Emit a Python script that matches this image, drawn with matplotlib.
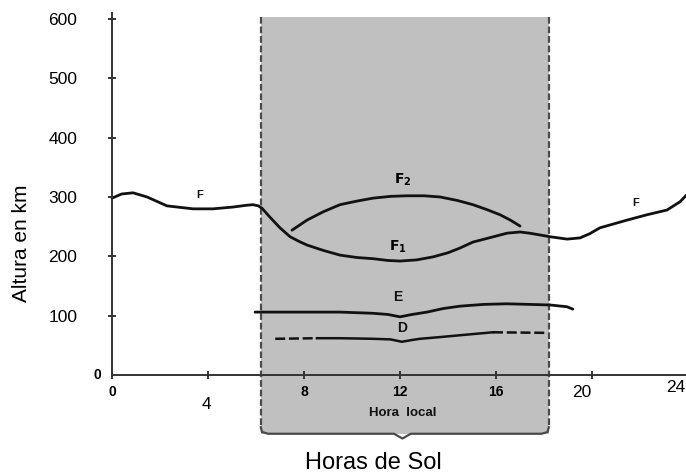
import numpy as np
import matplotlib.pyplot as plt
from matplotlib.patches import Rectangle
from matplotlib.transforms import ScaledTranslation

plt.rcParams['font.family'] = ['Liberation Sans', 'DejaVu Sans']

# capa F / F1 (hora local, altura en km)
f_horas = [0, 0.4, 0.875, 1.46, 2.29, 3.375, 4.2, 5.04, 5.6, 5.875, 6.1, 6.25, 6.58, 7.0, 7.42,
           7.8, 8.125, 8.8, 9.5, 10.2, 10.875, 11.5, 12.0, 12.7, 13.375, 14.0, 14.5, 15.04, 15.8,
           16.46, 17.0, 17.4, 17.83, 18.25, 18.96, 19.5, 19.9, 20.33, 21.46, 22.29, 23.125, 23.67, 24.0]
f_alt = [298, 305, 307, 300, 285, 280, 280, 283, 286, 287, 285, 281, 266, 248, 233,
         225, 219, 210, 202, 198, 196, 193, 192, 194, 199, 206, 214, 224, 232,
         239, 241, 239, 236, 233, 229, 231, 238, 248, 261, 270, 278, 292, 306]

# capa F2
f2_horas = [7.5, 8.125, 8.8, 9.5, 10.2, 10.875, 11.6, 12.29, 13.0, 13.67, 14.4, 15.04, 15.6, 16.17, 16.6, 17.0]
f2_alt = [244, 261, 275, 287, 293, 298, 301, 302, 302, 300, 294, 287, 279, 270, 261, 251]

# capa E
e_horas = [5.96, 9.5, 10.875, 11.5, 12.0, 12.5, 13.125, 13.8, 14.5, 15.5, 16.46, 18.25, 18.96, 19.2]
e_alt = [106, 106, 104, 102, 98, 102, 106, 112, 116, 119, 120, 118, 115, 111]

# capa D (tramos discontinuos a los lados)
d_izq_horas = [6.8, 8.54]
d_izq_alt = [61, 62]
d_horas = [8.54, 9.5, 10.875, 11.6, 12.08, 12.5, 12.83, 13.7, 14.5, 15.875]
d_alt = [62, 62, 61, 60, 56, 59, 61, 64, 67, 72]
d_der_horas = [15.875, 18.1]
d_der_alt = [72, 71]

# horas de sol
sol_ini, sol_fin = 6.2, 18.2

yticks = [100, 200, 300, 400, 500, 600]
xticks = [0, 4, 8, 12, 16, 20, 24]

fig = plt.figure(figsize=(6.86, 4.74), dpi=100)
ax = fig.add_axes([112/686, 99/474, 576/686, 362/474])
ax.set_xlim(0, 24)
ax.set_ylim(0, 610)

# zona sombreada
gris = '#c0c0c0'
ax.add_patch(Rectangle((sol_ini, -99), sol_fin - sol_ini, 703, facecolor=gris,
                       edgecolor='none', clip_on=False, zorder=0))
for xs in (sol_ini, sol_fin):
    ax.plot([xs, xs], [604, -88], color='#4a4a4a', lw=1.6, ls=(0, (3, 1.3)),
            clip_on=False, zorder=1)
ax.plot([sol_ini, sol_ini + 0.05, sol_ini + 0.3, 11.75, 12.1, 12.45, sol_fin - 0.3, sol_fin - 0.05, sol_fin],
        [-88, -96, -99, -99, -107, -99, -99, -96, -88],
        color='#4a4a4a', lw=1.6, clip_on=False, zorder=1)

negro = '#111111'
ax.plot(f_horas, f_alt, color=negro, lw=2.0, solid_capstyle='round', solid_joinstyle='round', clip_on=False)
ax.plot(f2_horas, f2_alt, color=negro, lw=2.0, solid_capstyle='round', solid_joinstyle='round')
ax.plot(e_horas, e_alt, color=negro, lw=2.0, solid_capstyle='round', solid_joinstyle='round')
ax.plot(d_horas, d_alt, color=negro, lw=1.8, solid_joinstyle='round')
ax.plot(d_izq_horas, d_izq_alt, color=negro, lw=1.8, ls=(0, (4, 1.5)))
ax.plot(d_der_horas, d_der_alt, color=negro, lw=1.8, ls=(0, (4, 1.5)))

# etiquetas de capas
kw = dict(fontweight='bold', ha='center', va='center', color=negro)
ax.text(3.67, 303, 'F', fontsize=8, **kw)
ax.text(21.8, 290, 'F', fontsize=8, **kw)
ax.text(12.1, 329, r'$\mathbf{F_2}$', fontsize=10, ha='center', va='center')
ax.text(11.9, 216, r'$\mathbf{F_1}$', fontsize=10, ha='center', va='center')
ax.text(11.9, 131, 'E', fontsize=10, **kw)
ax.text(12.1, 79, 'D', fontsize=10, **kw)
ax.text(12.1, -64, 'Hora  local', fontsize=9.5, **kw)

# ejes
for s in ('top', 'right'):
    ax.spines[s].set_visible(False)
for s in ('left', 'bottom'):
    ax.spines[s].set_color('#333333')
    ax.spines[s].set_linewidth(1.4)
ax.set_yticks(yticks)
ax.set_yticklabels([str(v) for v in yticks], fontsize=12.5)
ax.set_xticks(xticks)
ax.set_xticklabels([str(v) for v in xticks], fontsize=12.5)
ax.tick_params(axis='y', direction='inout', length=6, width=1.4, color='#333333', pad=22)
ax.tick_params(axis='x', direction='inout', length=6, width=1.4, color='#333333', pad=4)
for lab in ax.get_xticklabels():
    if lab.get_text() in ('0', '8', '12', '16'):
        lab.set_fontweight('bold')
        lab.set_fontsize(10)
    if lab.get_text() == '4':
        lab.set_transform(lab.get_transform() + ScaledTranslation(-2/100, -12/100, fig.dpi_scale_trans))
    if lab.get_text() == '20':
        lab.set_transform(lab.get_transform() + ScaledTranslation(-10/100, 0, fig.dpi_scale_trans))
    if lab.get_text() == '24':
        lab.set_transform(lab.get_transform() + ScaledTranslation(-12/100, 5/100, fig.dpi_scale_trans))
ax.text(-0.45, 0, '0', fontsize=10, fontweight='bold', ha='right', va='center')

fig.text(22/686, 1 - 243/474, 'Altura en km', rotation=90, fontsize=15,
         ha='center', va='center')
fig.text(373/686, 1 - 463/474, 'Horas de Sol', fontsize=17, ha='center', va='center')

fig.savefig('out.png', dpi=100)
